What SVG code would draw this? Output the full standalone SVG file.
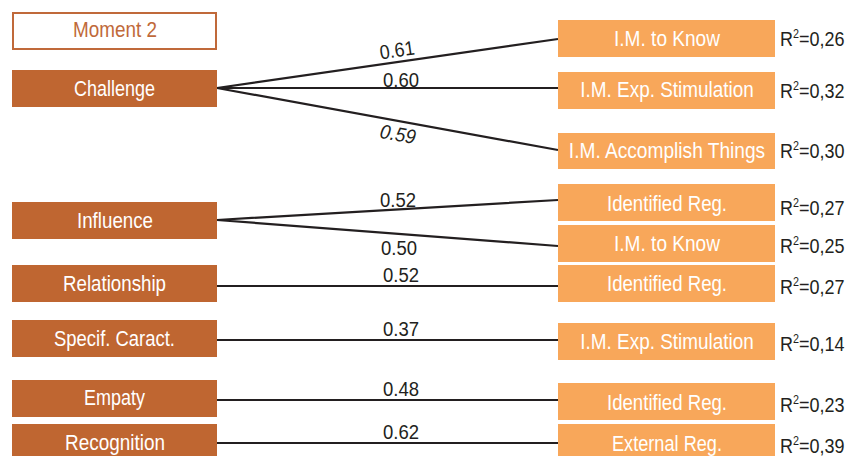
<svg xmlns="http://www.w3.org/2000/svg" width="848" height="456" viewBox="0 0 848 456">
<style>
.l{fill:#BF6631}
.r{fill:#F8A75A}
.t{font-family:"Liberation Sans",Arial,sans-serif;font-size:22px;fill:#fff;text-anchor:middle}
.w{font-family:"Liberation Sans",Arial,sans-serif;font-size:20px;fill:#231f20}
.e{stroke:#231f20;stroke-width:2.2;fill:none}
</style>
<rect width="848" height="456" fill="#fff"/>
<g id="moment">
<rect x="13" y="13" width="203" height="36" fill="#fff" stroke="#C0693A" stroke-width="2"/>
<text x="115" y="37" class="t" style="fill:#C0693A" textLength="84" lengthAdjust="spacingAndGlyphs">Moment 2</text>
</g>
<g id="connectors">
<path class="e" d="M217 88L558 39M217 88L558 88M217 88L558 150M217 220L558 200M217 220L558 246M217 286L558 286M217 340L558 340M217 400L558 400M217 443L558 443"/>
<text class="w" x="397" y="57" text-anchor="middle" transform="rotate(-8.2 397 50)" textLength="35" lengthAdjust="spacingAndGlyphs">0.61</text>
<text class="w" x="383" y="87" textLength="36" lengthAdjust="spacingAndGlyphs">0.60</text>
<text class="w" x="398" y="141" text-anchor="middle" font-style="italic" transform="rotate(10.3 398 134)" textLength="36" lengthAdjust="spacingAndGlyphs">0.59</text>
<text class="w" x="380" y="207" textLength="36" lengthAdjust="spacingAndGlyphs">0.52</text>
<text class="w" x="381" y="255" textLength="36" lengthAdjust="spacingAndGlyphs">0.50</text>
<text class="w" x="383" y="282" textLength="36" lengthAdjust="spacingAndGlyphs">0.52</text>
<text class="w" x="383" y="336" textLength="36" lengthAdjust="spacingAndGlyphs">0.37</text>
<text class="w" x="383" y="396" textLength="36" lengthAdjust="spacingAndGlyphs">0.48</text>
<text class="w" x="383" y="439" textLength="36" lengthAdjust="spacingAndGlyphs">0.62</text>
</g>
<g id="challenge"><rect class="l" x="12" y="70" width="205" height="37"/><text class="t" x="114.5" y="96" textLength="81" lengthAdjust="spacingAndGlyphs">Challenge</text></g>
<g id="influence"><rect class="l" x="12" y="202" width="205" height="37"/><text class="t" x="115" y="228" textLength="76" lengthAdjust="spacingAndGlyphs">Influence</text></g>
<g id="relationship"><rect class="l" x="12" y="265" width="205" height="37"/><text class="t" x="114.5" y="291" textLength="103" lengthAdjust="spacingAndGlyphs">Relationship</text></g>
<g id="specif"><rect class="l" x="12" y="320" width="205" height="37"/><text class="t" x="114.5" y="346" textLength="121" lengthAdjust="spacingAndGlyphs">Specif. Caract.</text></g>
<g id="empaty"><rect class="l" x="12" y="380" width="205" height="37"/><text class="t" x="114.5" y="405" textLength="61" lengthAdjust="spacingAndGlyphs">Empaty</text></g>
<g id="recognition"><rect class="l" x="12" y="424" width="205" height="37"/><text class="t" x="115" y="450" textLength="100" lengthAdjust="spacingAndGlyphs">Recognition</text></g>
<g id="imknow1"><rect class="r" x="558" y="20" width="217" height="37"/><text class="t" x="667" y="46" textLength="106" lengthAdjust="spacingAndGlyphs">I.M. to Know</text><text class="w" transform="translate(780 46) scale(0.9 1)">R<tspan font-size="12" dy="-8">2</tspan><tspan dy="8">=0,26</tspan></text></g>
<g id="imexp1"><rect class="r" x="558" y="72" width="217" height="37"/><text class="t" transform="translate(667 97) scale(0.86 1)">I.M. Exp. Stimulation</text><text class="w" transform="translate(780 98) scale(0.9 1)">R<tspan font-size="12" dy="-8">2</tspan><tspan dy="8">=0,32</tspan></text></g>
<g id="imacc"><rect class="r" x="558" y="133" width="217" height="36"/><text class="t" transform="translate(667 158) scale(0.87 1)">I.M. Accomplish Things</text><text class="w" transform="translate(780 158) scale(0.9 1)">R<tspan font-size="12" dy="-8">2</tspan><tspan dy="8">=0,30</tspan></text></g>
<g id="idreg1"><rect class="r" x="558" y="184" width="217" height="37"/><text class="t" x="667" y="211" textLength="120" lengthAdjust="spacingAndGlyphs">Identified Reg.</text><text class="w" transform="translate(780 215) scale(0.9 1)">R<tspan font-size="12" dy="-8">2</tspan><tspan dy="8">=0,27</tspan></text></g>
<g id="imknow2"><rect class="r" x="558" y="225" width="217" height="37"/><text class="t" x="667" y="251" textLength="106" lengthAdjust="spacingAndGlyphs">I.M. to Know</text><text class="w" transform="translate(780 253) scale(0.9 1)">R<tspan font-size="12" dy="-8">2</tspan><tspan dy="8">=0,25</tspan></text></g>
<g id="idreg2"><rect class="r" x="558" y="265" width="217" height="37"/><text class="t" x="667" y="291" textLength="120" lengthAdjust="spacingAndGlyphs">Identified Reg.</text><text class="w" transform="translate(780 294) scale(0.9 1)">R<tspan font-size="12" dy="-8">2</tspan><tspan dy="8">=0,27</tspan></text></g>
<g id="imexp2"><rect class="r" x="558" y="323" width="217" height="37"/><text class="t" transform="translate(667 349) scale(0.86 1)">I.M. Exp. Stimulation</text><text class="w" transform="translate(780 351) scale(0.9 1)">R<tspan font-size="12" dy="-8">2</tspan><tspan dy="8">=0,14</tspan></text></g>
<g id="idreg3"><rect class="r" x="558" y="383" width="217" height="37"/><text class="t" x="667" y="410" textLength="120" lengthAdjust="spacingAndGlyphs">Identified Reg.</text><text class="w" transform="translate(780 412) scale(0.9 1)">R<tspan font-size="12" dy="-8">2</tspan><tspan dy="8">=0,23</tspan></text></g>
<g id="extreg"><rect class="r" x="558" y="424" width="217" height="37"/><text class="t" x="667" y="451" textLength="110" lengthAdjust="spacingAndGlyphs">External Reg.</text><text class="w" transform="translate(780 453) scale(0.9 1)">R<tspan font-size="12" dy="-8">2</tspan><tspan dy="8">=0,39</tspan></text></g>
</svg>
